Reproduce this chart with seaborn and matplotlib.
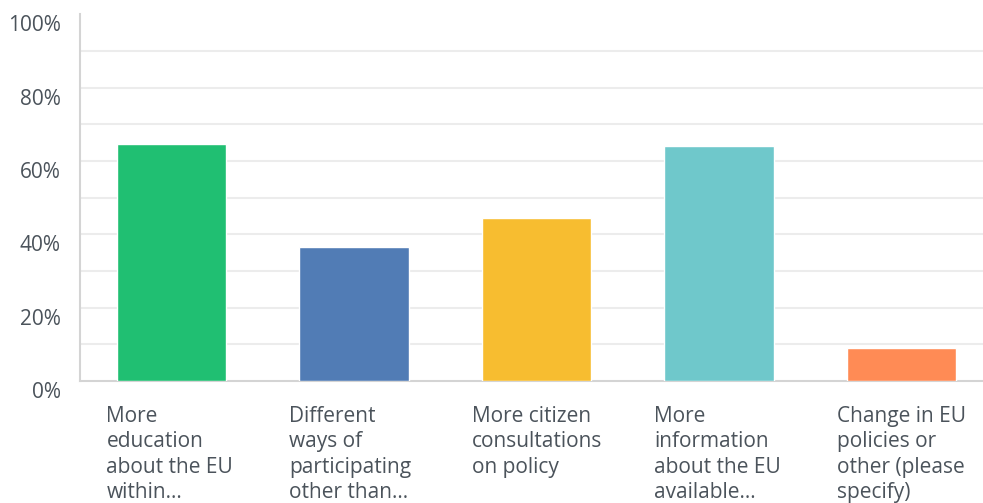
import matplotlib
matplotlib.use("Agg")
import matplotlib.pyplot as plt
import matplotlib.transforms as mtransforms
import seaborn as sns
import pandas as pd

# --- data
categories = [
    "More\neducation\nabout the EU\nwithin...",
    "Different\nways of\nparticipating\nother than...",
    "More citizen\nconsultations\non policy",
    "More\ninformation\nabout the EU\navailable...",
    "Change in EU\npolicies or\nother (please\nspecify)",
]
percent = [64.5, 36.5, 44.4, 64.1, 9.0]
colors = ["#20bf72", "#517cb5", "#f7bd30", "#6fc8cb", "#ff8b55"]

df = pd.DataFrame({"answer": categories, "percent": percent})

sns.set_style("white")
plt.rcParams["font.family"] = ["Open Sans", "DejaVu Sans"]

fig = plt.figure(figsize=(9.83, 5.03), dpi=100)
ax = fig.add_axes([80 / 983, 122 / 503, 913 / 983, 366.7 / 503])

# light gridlines every 10%, none at the top edge
for g in range(10, 100, 10):
    ax.axhline(g, color="#ececec", linewidth=1.5, zorder=0)

sns.barplot(data=df, x="answer", y="percent", hue="answer", palette=colors,
            saturation=1, width=0.6, legend=False, ax=ax, zorder=3)

ax.set_xlim(-0.5, 4.5)
ax.set_ylim(0, 100)
ax.set_yticks(range(0, 101, 20))
ax.set_yticklabels([f"{v}%" for v in range(0, 101, 20)], fontsize=15, color="#4b535b")
ax.grid(False)
ax.tick_params(axis="y", length=0, pad=14)
ax.set_xticks([])
ax.set_xlabel("")
ax.set_ylabel("")

# y labels sit a little below their gridline in the reference
down = mtransforms.ScaledTranslation(0, -9 / 100, fig.dpi_scale_trans)
for lbl in ax.get_yticklabels():
    lbl.set_transform(lbl.get_transform() + down)

for side in ["top", "right"]:
    ax.spines[side].set_visible(False)
for side in ["left", "bottom"]:
    ax.spines[side].set_color("#d4d4d4")
    ax.spines[side].set_linewidth(1.5)

# category labels, left aligned under each bar
offset = mtransforms.ScaledTranslation(0, -25 / 100, fig.dpi_scale_trans)
trans = mtransforms.blended_transform_factory(ax.transData, ax.transAxes) + offset
for i, label in enumerate(categories):
    ax.text(i - 0.355, 0, label, transform=trans, ha="left", va="top",
            fontsize=15, color="#4b535b", linespacing=1.27)

fig.savefig("out.png", dpi=100)
